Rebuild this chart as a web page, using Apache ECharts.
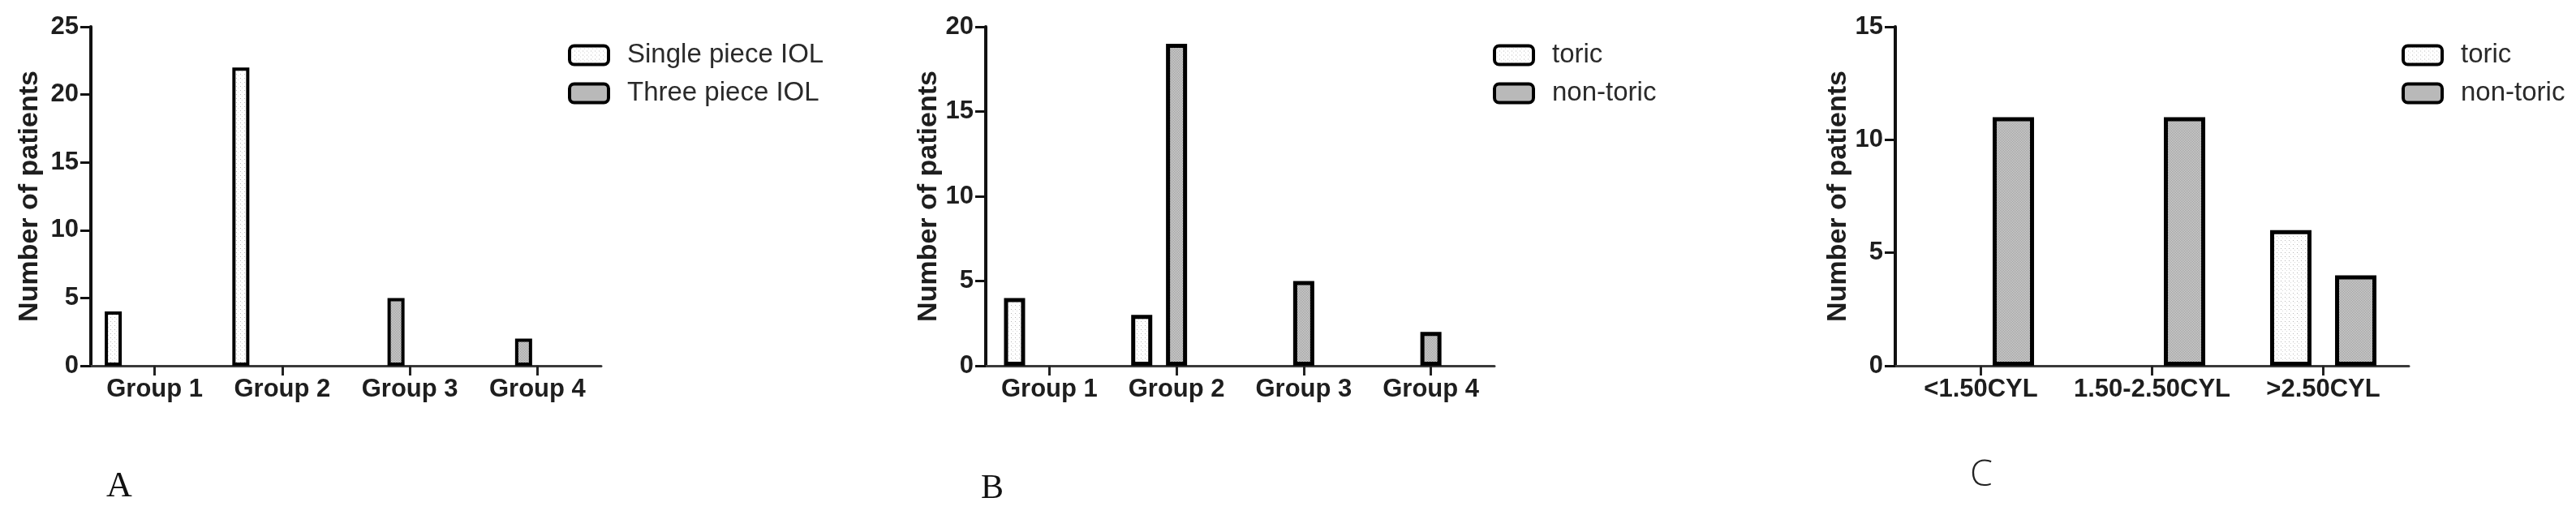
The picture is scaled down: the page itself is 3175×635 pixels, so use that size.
<!DOCTYPE html>
<html><head><meta charset="utf-8">
<script src="https://cdn.jsdelivr.net/npm/echarts@6/dist/echarts.min.js"></script>
<style>html,body{margin:0;padding:0;background:#fff}#c{width:3175px;height:635px}</style>
</head><body><div id="c"></div>
<script>
// ---- data ----
const groupCats = ['Group 1', 'Group 2', 'Group 3', 'Group 4'];
const cylCats = ['<1.50CYL', '1.50-2.50CYL', '>2.50CYL'];
const aSingle = [4, 22, 0, 0];
const aThree = [0, 0, 5, 2];
const bToric = [4, 3, 0, 0];
const bNonToric = [0, 19, 5, 2];
const cToric = [0, 0, 6];
const cNonToric = [11, 11, 4];
const aNames = ['Single piece IOL', 'Three piece IOL'];
const bcNames = ['toric', 'non-toric'];
const yMaxA = 25, yMaxB = 20, yMaxC = 15, yStep = 5;
const yTitle = 'Number of patients';
const panelLetters = ['A', 'B', 'C'];

// ---- patterns ----
function makePattern(kind) {
  const cv = document.createElement('canvas');
  if (kind === 'light') {
    cv.width = 5; cv.height = 5;
    const g = cv.getContext('2d');
    g.fillStyle = '#ffffff'; g.fillRect(0, 0, 5, 5);
    g.fillStyle = '#b8b8b8'; g.fillRect(1, 1, 1, 1);
    g.fillStyle = '#d8d8d8'; g.fillRect(3, 3, 1, 1);
  } else {
    cv.width = 4; cv.height = 4;
    const g = cv.getContext('2d');
    for (let x = 0; x < 4; x++) for (let y = 0; y < 4; y++) {
      g.fillStyle = ((x + y) % 2 === 0) ? '#8e8e8e' : '#e4e4e4';
      g.fillRect(x, y, 1, 1);
    }
  }
  return { image: cv, repeat: 'repeat' };
}
const lightFill = makePattern('light');
const darkFill = makePattern('dark');

const SANS = "'Liberation Sans', Arial, sans-serif";
const TXT = '#1e1e1e';
const nz = arr => arr.map(v => (v === 0 ? null : v));

function xAx(idx, cats) {
  return {
    type: 'category', gridIndex: idx, data: cats,
    axisLine: { show: true, lineStyle: { color: '#3a3a3a', width: 3 } },
    axisTick: { show: true, alignWithLabel: true, length: 12, lineStyle: { color: '#222', width: 3 } },
    axisLabel: { interval: 0, color: TXT, fontFamily: SANS, fontWeight: 'bold', fontSize: 31, margin: 14 },
    splitLine: { show: false }
  };
}
function yAx(idx, max, gap) {
  return {
    type: 'value', gridIndex: idx, min: 0, max: max, interval: yStep,
    name: yTitle, nameLocation: 'middle', nameRotate: 90, nameGap: gap,
    nameTextStyle: { color: TXT, fontFamily: SANS, fontWeight: 'bold', fontSize: 34 },
    axisLine: { show: true, lineStyle: { color: '#111', width: 4 } },
    axisTick: { show: true, length: 13, lineStyle: { color: '#111', width: 3 } },
    axisLabel: { color: TXT, fontFamily: SANS, fontWeight: 'bold', fontSize: 31, margin: 15 },
    splitLine: { show: false }
  };
}
function barS(name, data, idx, fill, bw, gap, border) {
  return {
    type: 'bar', name: name, data: data, xAxisIndex: idx, yAxisIndex: idx,
    barWidth: bw, barGap: gap,
    itemStyle: { color: fill, borderColor: '#000', borderWidth: border },
    emphasis: { disabled: true }, animation: false
  };
}
function legendAt(idx, left, names) {
  return {
    orient: 'vertical', left: left, top: 45, data: names,
    icon: 'roundRect', itemWidth: 48, itemHeight: 23, itemGap: 11,
    itemStyle: { borderWidth: 4, borderColor: '#000' },
    textStyle: { color: '#2a2a2a', fontFamily: SANS, fontSize: 33, lineHeight: 36, padding: [0, 0, 0, 18] },
    selectedMode: false
  };
}

const chart = echarts.init(document.getElementById('c'), null, { renderer: 'canvas' });
chart.setOption({
  backgroundColor: '#ffffff',
  animation: false,
  grid: [
    { left: 112, top: 33, width: 629, height: 418 },
    { left: 1215, top: 33, width: 627, height: 418 },
    { left: 2336, top: 33, width: 633, height: 418 }
  ],
  xAxis: [xAx(0, groupCats), xAx(1, groupCats), xAx(2, cylCats)],
  yAxis: [yAx(0, yMaxA, 58), yAx(1, yMaxB, 42), yAx(2, yMaxC, 46)],
  legend: [legendAt(0, 695, aNames), legendAt(1, 1835, bcNames), legendAt(2, 2955, bcNames)],
  series: [
    barS(aNames[0], nz(aSingle), 0, lightFill, 21, '62%', 4),
    barS(aNames[1], nz(aThree), 0, darkFill, 21, '62%', 4),
    barS('slotA3', groupCats.map(() => null), 0, lightFill, 21, '62%', 4),
    barS('slotA4', groupCats.map(() => null), 0, lightFill, 21, '62%', 4),
    barS(bcNames[0], nz(bToric), 1, lightFill, 26, '65%', 5),
    barS(bcNames[1], nz(bNonToric), 1, darkFill, 26, '65%', 5),
    barS('slotB3', groupCats.map(() => null), 1, lightFill, 26, '65%', 5),
    barS(bcNames[0], nz(cToric), 2, lightFill, 51, '57%', 5),
    barS(bcNames[1], nz(cNonToric), 2, darkFill, 51, '57%', 5)
  ],
  graphic: [
    { type: 'text', left: 131, top: 578, style: { text: panelLetters[0], font: "44px 'Liberation Serif', 'Times New Roman', serif", fill: '#111' } },
    { type: 'text', left: 1209, top: 582, style: { text: panelLetters[1], font: "42px 'Liberation Serif', 'Times New Roman', serif", fill: '#111' } },
    { type: 'text', left: 2428, top: 564, style: { text: panelLetters[2], font: "300 45px 'Open Sans', 'Noto Sans', sans-serif", fill: '#222' } }
  ]
});
</script>
</body></html>
